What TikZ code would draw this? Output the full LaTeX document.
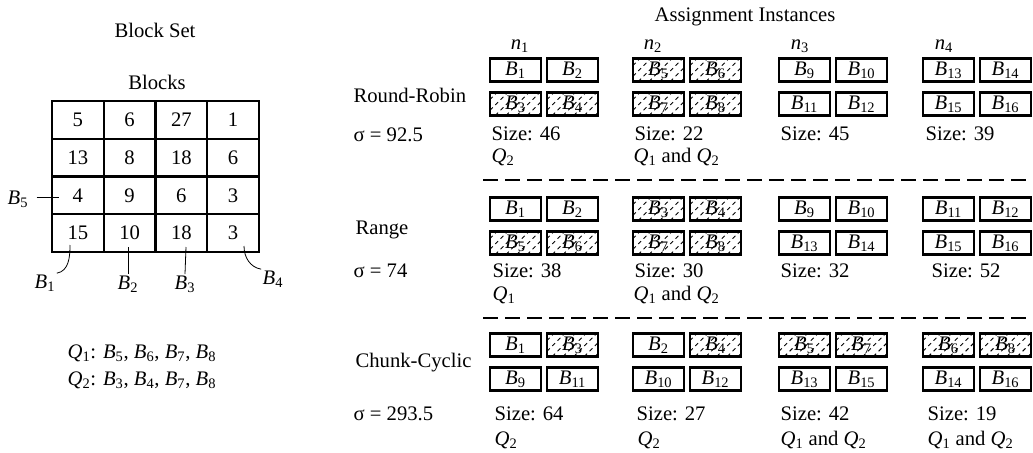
\documentclass[tikz,border=0pt]{standalone}
\usepackage{amsmath}
\usepackage{fontspec}
\setmainfont{Liberation Serif}
\usetikzlibrary{positioning, calc}

% italic letter with an upright index
\newcommand\bl[1]{{\itshape B}$_{\text{#1}}$}
\newcommand\ql[1]{{\itshape Q}$_{\text{#1}}$}
\newcommand\nl[1]{{\itshape n}$_{\text{#1}}$}

\begin{document}
\begin{tikzpicture}[
  x=0.75pt, y=-0.75pt,
  font=\fontsize{15.5}{18}\selectfont,
  every node/.style={inner sep=1pt},
  cell/.style={draw, line width=1.6pt, minimum width=38.8pt,
    minimum height=28.3pt, inner sep=0pt},
  blk/.style={draw, line width=1.8pt, minimum width=38.25pt,
    minimum height=17.25pt, inner sep=0pt},
  hat/.style={blk, path picture={
    \foreach \k in {-20,-12,...,40}
      \draw[line width=0.7pt, dash pattern=on 3pt off 2.6pt]
        ([xshift=\k pt]path picture bounding box.south west) -- ++(20pt,20pt);}},
  lead/.style={line width=0.6pt},
  sep/.style={line width=1.6pt, dash pattern=on 11pt off 5.5pt},
]
  \useasboundingbox (0,0) rectangle (1033,453);

  % -- Block set --
  \node (bset) at (155,30) {Block Set};
  \node (bhead) at (157,82) {Blocks};
  \foreach \r/\a/\b/\c/\d in {1/5/6/27/1, 2/13/8/18/6, 3/4/9/6/3, 4/15/10/18/3}
    \foreach \col/\v in {1/\a, 2/\b, 3/\c, 4/\d}
      \node[cell] (c\r\col) at ({52+51.75*(\col-0.5)}, {101+37.75*(\r-0.5)}) {\v};

  % -- Block labels --
  \node (lb5) at (18,199) {\bl5};
  \node (lb1) at (45,283) {\bl1};
  \node (lb2) at (128,284) {\bl2};
  \node (lb3) at (185,284) {\bl3};
  \node (lb4) at (273,279) {\bl4};
  \coordinate (p5) at (59,197);
  \coordinate (p1) at (70,245);
  \coordinate (p2) at (128,247);
  \coordinate (p3) at (186,247);
  \coordinate (p4) at (244,246);
  \draw[lead, shorten <=5pt] (lb5.east |- p5) -- (p5);
  \draw[lead] (p1) to[out=-90, in=10] (lb1.north east);
  \draw[lead] (p2) -- (lb2.north);
  \draw[lead] (p3) -- (lb3.north);
  \draw[lead] (p4) to[out=-90, in=170] (lb4.north west);

  % -- Queries --
  \node[anchor=west] (q1list) at (66,353) {\ql1: \bl5, \bl6, \bl7, \bl8};
  \node[anchor=west] (q2list) at (66,380) {\ql2: \bl3, \bl4, \bl7, \bl8};

  % -- Assignment heads --
  \node (assign) at (745,17) {Assignment Instances};
  \foreach \g/\x in {1/520, 2/653, 3/800, 4/944}
    \node (n\g) at (\x,46) {\nl{\g}};

  % -- Round-Robin --
  \node[anchor=west] (rr) at (352,95) {Round-Robin};
  \node[anchor=west] (rrsig) at (352,135) {σ = 92.5};
  \foreach \g/\lx/\sa/\la/\sb/\lb/\sc/\lc/\sd/\ld in {
      1/490/blk/1/blk/2/hat/3/hat/4,
      2/633/hat/5/hat/6/hat/7/hat/8,
      3/779/blk/9/blk/10/blk/11/blk/12,
      4/923/blk/13/blk/14/blk/15/blk/16} {
    \node[\sa] (rr\g-a) at (\lx+25.5,70) {\bl{\la}};
    \node[\sb] (rr\g-b) at (\lx+82.5,70) {\bl{\lb}};
    \node[\sc] (rr\g-c) at (\lx+25.5,104) {\bl{\lc}};
    \node[\sd] (rr\g-d) at (\lx+82.5,104) {\bl{\ld}};
  }
  \foreach \g/\sx/\sz in {1/490/46, 2/633/22, 3/779/45, 4/924/39}
    \node[anchor=west] (rr\g-size) at (\sx,134) {Size: \sz};
  \node[anchor=west] (rr1-q) at (490,157) {\ql2};
  \node[anchor=west] (rr2-q) at (632,157) {\ql1 and \ql2};

  \draw[sep] (483,180) -- (1031,180);

  % -- Range --
  \node[anchor=west] (rg) at (354,230) {Range};
  \node[anchor=west] (rgsig) at (352,271) {σ = 74};
  \foreach \g/\lx/\sa/\la/\sb/\lb/\sc/\lc/\sd/\ld in {
      1/490/blk/1/blk/2/hat/5/hat/6,
      2/633/hat/3/hat/4/hat/7/hat/8,
      3/779/blk/9/blk/10/blk/13/blk/14,
      4/923/blk/11/blk/12/blk/15/blk/16} {
    \node[\sa] (rg\g-a) at (\lx+25.5,209) {\bl{\la}};
    \node[\sb] (rg\g-b) at (\lx+82.5,209) {\bl{\lb}};
    \node[\sc] (rg\g-c) at (\lx+25.5,243) {\bl{\lc}};
    \node[\sd] (rg\g-d) at (\lx+82.5,243) {\bl{\ld}};
  }
  \foreach \g/\sx/\sz in {1/491/38, 2/633/30, 3/779/32, 4/930/52}
    \node[anchor=west] (rg\g-size) at (\sx,271) {Size: \sz};
  \node[anchor=west] (rg1-q) at (491,295) {\ql1};
  \node[anchor=west] (rg2-q) at (632,295) {\ql1 and \ql2};

  \draw[sep] (483,318) -- (1031,318);

  % -- Chunk-Cyclic --
  \node[anchor=west] (cc) at (354,363) {Chunk-Cyclic};
  \node[anchor=west] (ccsig) at (352,414) {σ = 293.5};
  \foreach \g/\lx/\sa/\la/\sb/\lb/\sc/\lc/\sd/\ld in {
      1/490/blk/1/hat/3/blk/9/blk/11,
      2/633/blk/2/hat/4/blk/10/blk/12,
      3/779/hat/5/hat/7/blk/13/blk/15,
      4/923/hat/6/hat/8/blk/14/blk/16} {
    \node[\sa] (cc\g-a) at (\lx+25.5,345) {\bl{\la}};
    \node[\sb] (cc\g-b) at (\lx+82.5,345) {\bl{\lb}};
    \node[\sc] (cc\g-c) at (\lx+25.5,379) {\bl{\lc}};
    \node[\sd] (cc\g-d) at (\lx+82.5,379) {\bl{\ld}};
  }
  \foreach \g/\sx/\sz in {1/493/64, 2/635/27, 3/779/42, 4/926/19}
    \node[anchor=west] (cc\g-size) at (\sx,414) {Size: \sz};
  \foreach \g/\sx/\qq in {1/493/{\ql2}, 2/636/{\ql2},
      3/779/{\ql1 and \ql2}, 4/926/{\ql1 and \ql2}}
    \node[anchor=west] (cc\g-q) at (\sx,440) {\qq};
\end{tikzpicture}
\end{document}
